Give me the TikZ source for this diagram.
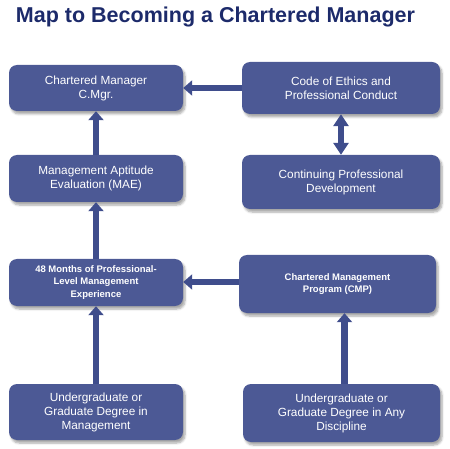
\documentclass[tikz,border=0pt]{standalone}
\usepackage{fontspec}
\setmainfont{Liberation Sans}
\usepackage{tikz}
\usetikzlibrary{arrows.meta}
\usetikzlibrary{shadows.blur}
\definecolor{titleblue}{RGB}{28,42,106}
\definecolor{boxblue}{RGB}{76,89,149}
\definecolor{arrowblue}{RGB}{63,77,140}
\tikzset{
  mapbox/.style={fill=boxblue, rounded corners=8pt, text=white, align=center,
    font=\fontsize{11.8}{14}\selectfont, inner sep=0pt,
    blur shadow={shadow xshift=2pt, shadow yshift=-3pt, shadow blur steps=6, shadow opacity=35}},
  boldbox/.style={mapbox, font=\fontsize{9.5}{12.3}\selectfont\bfseries},
  maparrow/.style={draw=arrowblue, line width=6.5pt, -{Triangle[width=15pt,length=9pt]}},
  twoarrow/.style={draw=arrowblue, line width=6.5pt, {Triangle[width=15pt,length=12pt]}-{Triangle[width=15pt,length=12pt]}}
}

\begin{document}
\begin{tikzpicture}[x=1pt,y=-1pt]
    \useasboundingbox (0,0) rectangle (450,449);
    \node[anchor=base, text=titleblue, font=\fontsize{21.5}{24}\selectfont\bfseries] (title) at (215.5,23) {Map to Becoming a Chartered Manager};
    % Left column
    \node[mapbox, minimum width=174pt, minimum height=46pt] (cm) at (96,88) {Chartered Manager\\C.Mgr.};
    \node[mapbox, minimum width=174pt, minimum height=47pt] (mae) at (96,178.5) {Management Aptitude\\Evaluation (MAE)};
    \node[boldbox, minimum width=174pt, minimum height=47pt] (exp) at (96,282.5) {48 Months of Professional-\\Level Management\\Experience};
    \node[mapbox, minimum width=174pt, minimum height=56pt] (ugmgt) at (96,412) {Undergraduate or\\Graduate Degree in\\Management};
    % Right column
    \node[mapbox, minimum width=198pt, minimum height=52pt] (code) at (341,88) {Code of Ethics and\\Professional Conduct};
    \node[mapbox, minimum width=198pt, minimum height=54pt] (cpd) at (341,182) {Continuing Professional\\Development};
    \node[boldbox, minimum width=197pt, minimum height=58pt] (cmp) at (337.5,284) {Chartered Management\\Program (CMP)};
    \node[mapbox, minimum width=197pt, minimum height=58pt] (ugany) at (341.5,413) {Undergraduate or\\Graduate Degree in Any\\Discipline};
    %
    % Arrows:
  \draw[maparrow] (code.west) -- (cm.east);
  \draw[twoarrow] (code.south) -- (cpd.north);
  \draw[maparrow] (mae.north) -- (cm.south);
  \draw[maparrow] (exp.north) -- (mae.south);
  \draw[maparrow] (cmp.west |- 0,282) -- (exp.east |- 0,282);
  \draw[maparrow] (ugmgt.north) -- (exp.south);
  \draw[maparrow] ([xshift=3pt]ugany.north) -- ([xshift=3pt]ugany.north |- cmp.south);
\end{tikzpicture}
\end{document}
